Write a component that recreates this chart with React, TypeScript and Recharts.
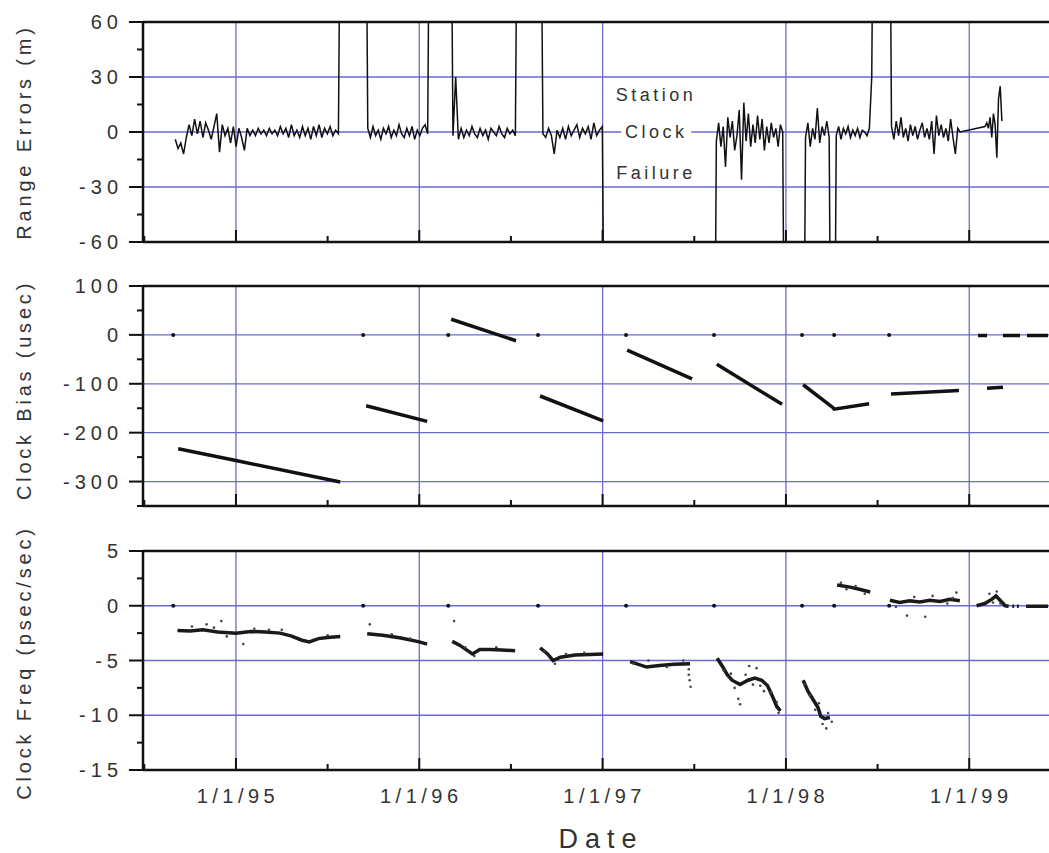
import React from 'react';
import {
  ComposedChart,
  Line,
  Scatter,
  XAxis,
  YAxis,
  CartesianGrid,
  ReferenceLine,
  ReferenceArea,
  ReferenceDot,
} from 'recharts';

const FONT = '"Liberation Sans", Arial, Helvetica, sans-serif';
const TEXT = '#333';
const GRID = '#6a6ad2';
const INK = '#111';

// ---------- shared x axis (decimal years) ----------
const X_DOMAIN: [number, number] = [1994.493, 1999.435];
const yearTicks = [1995, 1996, 1997, 1998, 1999];
const xTickLabels = ['1/1/95', '1/1/96', '1/1/97', '1/1/98', '1/1/99'];
const halfYearTicks = [1994.5, 1995.5, 1996.5, 1997.5, 1998.5];
const allXTicks = [...halfYearTicks, ...yearTicks].sort((a, b) => a - b);

// ---------- panel 1: range errors (m), evenly sampled segments ----------
type Seg = { t0: number; t1: number; v: number[] };
const rangeA: Seg = {
  t0: 1994.669, t1: 1995.574,
  v: [-4, -9, -6, -12, -3, 4, -2, 7, -1, 6, -3, 5, 1, -4, 3, 10, -11, 4, -2, 2, -6, 3, -8, 2, -3, -10, 2, -2, 1, -2,
    2, -1, 1, -2, 2, -1, 1, -2, 3, -1, 2, -3, 4, -2, 1, -3, 3, -2, 2, -4, 3, -2, 4, -3, 2, -1, 3, -2, 1, -1, 200],
};
const rangeB: Seg = {
  t0: 1995.705, t1: 1996.06,
  v: [200, 2, -3, 3, -2, 1, -4, 2, -1, 3, -3, 1, -2, 4, -1, -3, 2, -2, 3, -4, 1, -2, 2, 4, -1, 200],
};
const rangeC: Seg = {
  t0: 1996.169, t1: 1996.539,
  v: [200, -2, 30, -4, 2, -3, 1, -2, 3, -1, -3, 2, -2, 1, -4, 2, 0, -2, 3, -1, -3, 2, -1, 1, -2, 200],
};
const rangeD: Seg = {
  t0: 1996.659, t1: 1997.014,
  v: [200, -1, -3, 2, -2, -12, 1, -3, 2, -4, 3, -2, 1, 4, -3, 2, -1, 3, -4, 5, -2, 1, 3, -200],
};
const rangeE: Seg = {
  t0: 1997.608, t1: 1997.995,
  v: [-200, -5, 5, -8, 3, -19, 8, -3, 6, -10, -2, 12, -26, 16, -5, 10, -8, 4, -6, 9, -4, 7, -10, 3, -6, 5, -3, 2, -8, 4, 0, -200],
};
const rangeF: Seg = {
  t0: 1998.094, t1: 1998.481,
  v: [-200, -3, 5, -8, 2, -4, 13, -6, 3, -2, 6, -3, -200, -200, -2, 3, -4, 2, -1, 3, -3, 1, -2, 2, -3, 1, 0, -2, 2, 30, 200],
};
const rangeG: Seg = {
  t0: 1998.563, t1: 1998.95,
  v: [200, 3, -4, 6, -2, 8, -3, 2, -5, 4, -2, 3, -4, 1, 5, -3, 2, -4, 6, -12, 9, -2, 4, -3, 2, -5, 7, -3, -12, 2, 0],
};
const rangeH: Seg = {
  t0: 1999.086, t1: 1999.178,
  v: [3, 5, 2, 8, -3, 10, 4, -14, 18, 25, 6],
};
const rangeSegments = [rangeA, rangeB, rangeC, rangeD, rangeE, rangeF, rangeG, rangeH];

// ---------- panel 2: clock bias (usec) ----------
type P = [number, number];
const biasS1: P[] = [[1994.685, -233], [1995.0, -257], [1995.569, -301]];
const biasS2: P[] = [[1995.71, -145], [1996.043, -177]];
const biasS3: P[] = [[1996.174, 32], [1996.528, -12]];
const biasS4: P[] = [[1996.659, -125], [1997.003, -176]];
const biasS5: P[] = [[1997.134, -31], [1997.488, -90]];
const biasS6: P[] = [[1997.623, -60], [1997.979, -142]];
const biasS7: P[] = [[1998.094, -102], [1998.257, -149], [1998.263, -152], [1998.454, -141]];
const biasS8: P[] = [[1998.573, -121], [1998.944, -114]];
const biasS9: P[] = [[1999.097, -109], [1999.184, -107]];
const biasZ1: P[] = [[1999.048, -1], [1999.097, -1]];
const biasZ2: P[] = [[1999.184, -1], [1999.277, -1]];
const biasZ3: P[] = [[1999.315, -1], [1999.43, -1]];
const biasSegments = [biasS1, biasS2, biasS3, biasS4, biasS5, biasS6, biasS7, biasS8, biasZ1, biasS9, biasZ2, biasZ3];
const gapDotTimes = [1994.658, 1995.694, 1996.158, 1996.648, 1997.128, 1997.608, 1998.088, 1998.263, 1998.563];

// ---------- panel 3: clock frequency (psec/sec) ----------
const freqF1: P[] = [[1994.681, -2.25], [1994.75, -2.3], [1994.82, -2.2], [1994.9, -2.4], [1995.0, -2.5], [1995.08, -2.35], [1995.16, -2.4], [1995.24, -2.5], [1995.3, -2.75], [1995.36, -3.15], [1995.4, -3.3], [1995.45, -3.0], [1995.5, -2.9], [1995.569, -2.8]];
const freqF2: P[] = [[1995.716, -2.55], [1995.8, -2.7], [1995.9, -2.95], [1996.0, -3.3], [1996.043, -3.5]];
const freqF3: P[] = [[1996.18, -3.25], [1996.22, -3.6], [1996.29, -4.4], [1996.33, -4.0], [1996.385, -4.0], [1996.45, -4.05], [1996.523, -4.1]];
const freqF4: P[] = [[1996.659, -3.85], [1996.7, -4.4], [1996.73, -5.0], [1996.77, -4.7], [1996.85, -4.5], [1996.93, -4.45], [1997.003, -4.4]];
const freqF5: P[] = [[1997.15, -5.1], [1997.24, -5.6], [1997.31, -5.45], [1997.39, -5.35], [1997.477, -5.3]];
const freqF6: P[] = [[1997.625, -4.8], [1997.652, -5.5], [1997.68, -6.3], [1997.706, -6.8], [1997.75, -7.2], [1997.793, -6.8], [1997.83, -6.6], [1997.868, -6.8], [1997.9, -7.3], [1997.93, -8.4], [1997.95, -9.2], [1997.97, -9.6]];
const freqF7: P[] = [[1998.094, -6.8], [1998.12, -7.8], [1998.153, -8.7], [1998.175, -9.3], [1998.19, -10.1], [1998.21, -10.3], [1998.24, -10.2]];
const freqF8: P[] = [[1998.279, 1.9], [1998.35, 1.7], [1998.4, 1.5], [1998.46, 1.25]];
const freqF9: P[] = [[1998.567, 0.5], [1998.62, 0.3], [1998.675, 0.45], [1998.73, 0.35], [1998.785, 0.5], [1998.84, 0.4], [1998.895, 0.6], [1998.949, 0.45]];
const freqF10: P[] = [[1999.04, 0.0], [1999.085, 0.2], [1999.124, 0.6], [1999.146, 0.9], [1999.168, 0.5], [1999.196, 0.0], [1999.215, -0.05]];
const freqF11: P[] = [[1999.235, -0.05], [1999.245, -0.05]];
const freqF12: P[] = [[1999.26, -0.05], [1999.27, -0.05]];
const freqF13: P[] = [[1999.31, -0.05], [1999.43, -0.05]];
const freqSegments = [freqF1, freqF2, freqF3, freqF4, freqF5, freqF6, freqF7, freqF8, freqF9, freqF10, freqF11, freqF12, freqF13];
const freqScatter: P[] = [
  [1994.76, -1.9], [1994.84, -1.7], [1994.88, -2.0], [1994.92, -1.4], [1994.95, -2.8], [1995.04, -3.5], [1995.1, -2.1], [1995.18, -2.2], [1995.25, -2.2], [1995.5, -2.7],
  [1995.73, -1.7], [1995.85, -2.6], [1995.95, -3.0],
  [1996.19, -1.4], [1996.25, -3.8], [1996.3, -4.6], [1996.42, -3.8],
  [1996.68, -4.2], [1996.74, -5.3], [1996.8, -4.4], [1996.9, -4.3],
  [1997.17, -5.3], [1997.25, -5.0], [1997.35, -5.6], [1997.44, -5.0], [1997.47, -6.3], [1997.475, -6.8], [1997.48, -7.4], [1997.47, -5.8],
  [1997.66, -5.9], [1997.7, -6.2], [1997.72, -7.5], [1997.75, -9.0], [1997.74, -8.5], [1997.78, -6.3], [1997.8, -5.5], [1997.82, -7.2], [1997.84, -5.7], [1997.86, -7.3], [1997.88, -7.8], [1997.92, -7.9], [1997.95, -8.8], [1997.96, -9.8],
  [1998.1, -7.2], [1998.13, -8.2], [1998.16, -9.5], [1998.18, -8.9], [1998.2, -10.8], [1998.22, -11.2], [1998.23, -9.8], [1998.25, -10.6],
  [1998.3, 2.1], [1998.33, 1.5], [1998.38, 1.8], [1998.43, 1.1],
  [1998.6, -0.1], [1998.66, -0.9], [1998.7, 0.8], [1998.76, -1.0], [1998.8, 0.9], [1998.88, 0.2], [1998.93, 1.2], [1998.91, 0.7],
  [1999.11, 1.1], [1999.13, 0.3], [1999.15, 1.3], [1999.17, 0.2],
];

// ---------- helpers ----------
type Row = { t: number; v: number | null };
const sampleSegments = (segs: Seg[]): Row[] =>
  segs.flatMap((s) => s.v.map((val, i) => ({ t: s.t0 + ((s.t1 - s.t0) * i) / (s.v.length - 1), v: val })));
const joinWithGaps = (segs: P[][]): Row[] =>
  segs.flatMap((s) => [...s.map(([t, v]) => ({ t, v })), { t: s[s.length - 1][0], v: null }]);
const toRows = (pts: P[]): Row[] => pts.map(([t, v]) => ({ t, v }));

const rangeData = sampleSegments(rangeSegments);
const biasData = joinWithGaps(biasSegments);
const freqData = joinWithGaps(freqSegments);
const biasDots = gapDotTimes.map((t) => ({ t, v: 0 }));
const freqDots = gapDotTimes.map((t) => ({ t, v: 0 }));
const freqNoise = toRows(freqScatter);

const makeXTick = (withLabels: boolean) => (props: any) => {
  const { x, y, payload } = props;
  const v = payload.value as number;
  const idx = yearTicks.indexOf(v);
  const major = idx >= 0;
  return (
    <g>
      <line x1={x} x2={x} y1={y} y2={y - (major ? 12 : 6)} stroke={INK} strokeWidth={2} />
      {withLabels && major && (
        <text x={x + 2} y={y + 33} textAnchor="middle" fontFamily={FONT} fontSize={20} letterSpacing={4.5} fill={TEXT}>
          {xTickLabels[idx]}
        </text>
      )}
    </g>
  );
};

const makeYTick = (labeled: number[]) => (props: any) => {
  const { x, y, payload } = props;
  const v = payload.value as number;
  const major = labeled.includes(v);
  return (
    <g>
      <line x1={x - (major ? 14 : 6)} x2={x} y1={y} y2={y} stroke={INK} strokeWidth={2} />
      {major && (
        <text x={x - 20} y={y} dy={7} textAnchor="end" fontFamily={FONT} fontSize={20} letterSpacing={5} fill={TEXT}>
          {v}
        </text>
      )}
    </g>
  );
};

const dotShape = (r: number, fill: string) => (props: any) =>
  <circle cx={props.cx} cy={props.cy} r={r} fill={fill} />;

const yTitle = (value: string, dy: number) => ({
  value,
  angle: -90,
  position: 'insideLeft' as const,
  offset: 24,
  dy,
  fill: TEXT,
  fontSize: 20,
  fontFamily: FONT,
  letterSpacing: 3.8,
  style: { textAnchor: 'middle' as const },
});

const axisLine = { stroke: INK, strokeWidth: 2.5 };

const W = 1049;

export default function App() {
  return (
    <div style={{ position: 'absolute', left: 0, top: 0, width: W, height: 853, background: '#fff' }}>
      {/* Panel 1 */}
      <div style={{ position: 'absolute', left: 0, top: 0 }}>
        <ComposedChart width={W} height={262} margin={{ top: 22, right: 0, bottom: 0, left: 0 }}>
          <CartesianGrid stroke={GRID} strokeWidth={1.3} horizontalValues={[30, 0, -30]} verticalValues={yearTicks} />
          <XAxis dataKey="t" type="number" domain={X_DOMAIN} allowDataOverflow ticks={allXTicks} interval={0}
            height={20} tickSize={0} tickMargin={0} tickLine={false} axisLine={axisLine} tick={makeXTick(false)} />
          <YAxis dataKey="v" type="number" domain={[-60, 60]} allowDataOverflow width={143}
            ticks={[-60, -45, -30, -15, 0, 15, 30, 45, 60]} interval={0} tickSize={0} tickMargin={0} tickLine={false}
            axisLine={axisLine} tick={makeYTick([-60, -30, 0, 30, 60])} label={yTitle('Range Errors (m)', 0)} />
          <ReferenceLine y={60} stroke={INK} strokeWidth={2.5} />
          <ReferenceArea x1={1997.102} x2={1997.484} y1={-3} y2={3} fill="#fff" fillOpacity={1} stroke="none"
            label={{ value: 'Clock', position: 'center', fill: TEXT, fontSize: 18, fontFamily: FONT, letterSpacing: 3.5 }} />
          <ReferenceDot x={1997.292} y={20.6} r={0} fill="none" stroke="none"
            label={{ value: 'Station', position: 'center', fill: TEXT, fontSize: 18, fontFamily: FONT, letterSpacing: 3.5 }} />
          <ReferenceDot x={1997.292} y={-22} r={0} fill="none" stroke="none"
            label={{ value: 'Failure', position: 'center', fill: TEXT, fontSize: 18, fontFamily: FONT, letterSpacing: 3.5 }} />
          <Line data={rangeData} dataKey="v" type="linear" stroke={INK} strokeWidth={1.5} dot={false}
            isAnimationActive={false} />
        </ComposedChart>
      </div>

      {/* Panel 2 */}
      <div style={{ position: 'absolute', left: 0, top: 250 }}>
        <ComposedChart width={W} height={270} margin={{ top: 36, right: 0, bottom: 0, left: 0 }}>
          <CartesianGrid stroke={GRID} strokeWidth={1.3} horizontalValues={[0, -100, -200, -300]} verticalValues={yearTicks} />
          <XAxis dataKey="t" type="number" domain={X_DOMAIN} allowDataOverflow ticks={allXTicks} interval={0}
            height={14} tickSize={0} tickMargin={0} tickLine={false} axisLine={axisLine} tick={makeXTick(false)} />
          <YAxis dataKey="v" type="number" domain={[-350, 100]} allowDataOverflow width={143}
            ticks={[-350, -300, -250, -200, -150, -100, -50, 0, 50, 100]} interval={0} tickSize={0} tickMargin={0}
            tickLine={false} axisLine={axisLine} tick={makeYTick([-300, -200, -100, 0, 100])}
            label={yTitle('Clock Bias (usec)', -6)} />
          <ReferenceLine y={100} stroke={INK} strokeWidth={2.5} />
          <Line data={biasData} dataKey="v" type="linear" stroke={INK} strokeWidth={3.5} dot={false}
            connectNulls={false} isAnimationActive={false} />
          <Scatter data={biasDots} dataKey="v" shape={dotShape(2, INK)} isAnimationActive={false} />
        </ComposedChart>
      </div>

      {/* Panel 3 */}
      <div style={{ position: 'absolute', left: 0, top: 520 }}>
        <ComposedChart width={W} height={333} margin={{ top: 31, right: 0, bottom: 0, left: 0 }}>
          <CartesianGrid stroke={GRID} strokeWidth={1.3} horizontalValues={[0, -5, -10]} verticalValues={yearTicks} />
          <XAxis dataKey="t" type="number" domain={X_DOMAIN} allowDataOverflow ticks={allXTicks} interval={0}
            height={83} tickSize={0} tickMargin={0} tickLine={false} axisLine={axisLine} tick={makeXTick(true)}
            label={{ value: 'Date', position: 'insideBottom', offset: 5, dx: 5, fill: TEXT, fontSize: 27, fontFamily: FONT, letterSpacing: 7 }} />
          <YAxis dataKey="v" type="number" domain={[-15, 5]} allowDataOverflow width={143}
            ticks={[-15, -12.5, -10, -7.5, -5, -2.5, 0, 2.5, 5]} interval={0} tickSize={0} tickMargin={0}
            tickLine={false} axisLine={axisLine} tick={makeYTick([-15, -10, -5, 0, 5])}
            label={yTitle('Clock Freq (psec/sec)', 2)} />
          <ReferenceLine y={5} stroke={INK} strokeWidth={2.5} />
          <Line data={freqData} dataKey="v" type="linear" stroke="#1a1a1a" strokeWidth={3.5} dot={false}
            connectNulls={false} isAnimationActive={false} />
          <Scatter data={freqNoise} dataKey="v" shape={dotShape(1.3, '#444')} isAnimationActive={false} />
          <Scatter data={freqDots} dataKey="v" shape={dotShape(2, INK)} isAnimationActive={false} />
        </ComposedChart>
      </div>
    </div>
  );
}
